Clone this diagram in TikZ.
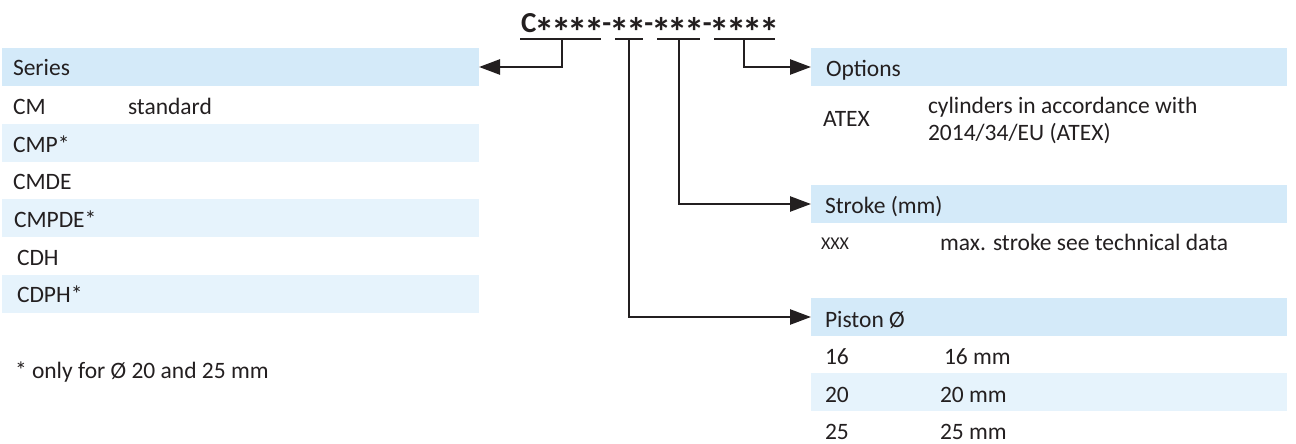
\documentclass[tikz,border=0pt]{standalone}
\usepackage{fontspec}
\usepackage{graphicx}
\setmainfont{Carlito}
\newfontfamily\codefont[LetterSpace=4]{Carlito}
\newcommand{\codestar}{\makebox[0.57em]{\raisebox{-0.47em}{\scalebox{1.4}{*}}}}
\usepackage{tikz}
\usetikzlibrary{arrows.meta}
\definecolor{inkgray}{RGB}{35,31,32}
\definecolor{headblue}{RGB}{212,234,249}
\definecolor{rowblue}{RGB}{230,243,252}

\begin{document}
\begin{tikzpicture}[x=1pt,y=-1pt,
  every node/.style={inner sep=0pt,outer sep=0pt,text=inkgray,font=\fontsize{23.5}{27}\selectfont},
  txt/.style={anchor=base west},
  band/.style={anchor=north west,minimum width=#1,minimum height=38pt},
  headband/.style={band=#1,fill=headblue},
  rowband/.style={band=#1,fill=rowblue},
  bar/.style={draw=inkgray,line width=2.5pt},
  link/.style={bar,-{Triangle[length=21pt,width=15pt]}}]
\useasboundingbox (0,0) rectangle (1296,444);

\node[txt,font=\codefont\bfseries\fontsize{29}{30}\selectfont] (code) at (521,33)
  {C\codestar\codestar\codestar\codestar-\codestar\codestar-\codestar\codestar\codestar-\codestar\codestar\codestar\codestar};
\draw[bar] (520,39) -- (601,39) (615,39) -- (643,39) (657,39) -- (700,39) (714,39) -- (775,39);
\coordinate (k-series) at (562,39);
\coordinate (k-piston) at (629,39);
\coordinate (k-stroke) at (679,39);
\coordinate (k-options) at (744,39);

\node[headband=477pt] (series) at (2,48) {};
\node[rowband=477pt] (row-cmp) at (2,124) {};
\node[rowband=477pt] (row-cmpde) at (2,199) {};
\node[rowband=477pt] (row-cdph) at (2,275) {};
\node[txt] (t-series) at (13,76) {Series};
\node[txt] (t-cm) at (13,114) {CM};
\node[txt] (t-standard) at (128,114) {standard};
\node[txt] (t-cmp) at (13,152) {CMP*};
\node[txt] (t-cmde) at (13,189) {CMDE};
\node[txt] (t-cmpde) at (14,227) {CMPDE*};
\node[txt] (t-cdh) at (17,265) {CDH};
\node[txt] (t-cdph) at (17,302) {CDPH*};
\node[txt] (t-note) at (15,378) {* only for Ø 20 and 25 mm};

\node[headband=476pt] (options) at (811,48) {};
\node[txt] (t-options) at (826,77) {Options};
\node[txt] (t-atex) at (823,126) {ATEX};
\node[txt] (t-atex1) at (928,113) {cylinders in accordance with};
\node[txt] (t-atex2) at (928,140) {2014/34/EU (ATEX)};

\node[headband=476pt] (stroke) at (811,185) {};
\node[txt] (t-stroke) at (825,213) {Stroke (mm)};
\node[txt,font=\fontsize{18}{20}\selectfont] (t-xxx) at (821,249) {XXX};
\node[txt] (t-maxstroke) at (940,250) {max. stroke see technical data};

\node[headband=476pt] (piston) at (811,298) {};
\node[rowband=476pt] (row-p20) at (811,373) {};
\node[txt] (t-piston) at (825,327) {Piston Ø};
\node[txt] (t-p16) at (825,364) {16};
\node[txt] (t-p16mm) at (944,364) {16 mm};
\node[txt] (t-p20) at (825,402) {20};
\node[txt] (t-p20mm) at (940,402) {20 mm};
\node[txt] (t-p25) at (825,439) {25};
\node[txt] (t-p25mm) at (940,439) {25 mm};

\draw[link] (k-series) |- (series.east);
\draw[link] (k-options) |- (options.west);
\draw[link] (k-stroke) |- (stroke.west);
\draw[link] (k-piston) |- (piston.west);
\end{tikzpicture}
\end{document}
